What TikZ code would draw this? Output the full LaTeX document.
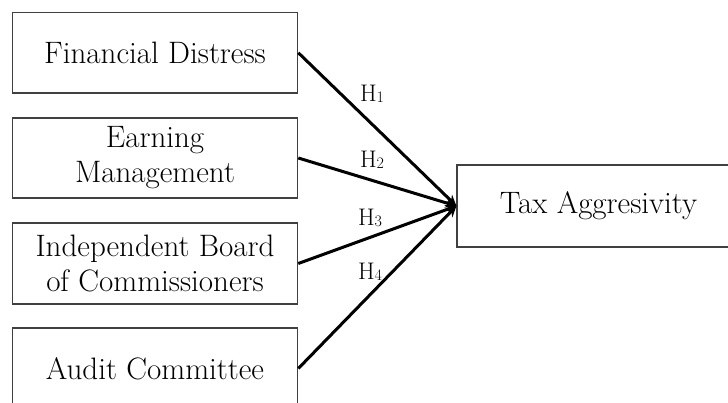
\documentclass[tikz,border=0pt]{standalone}
\usetikzlibrary{arrows.meta}
\begin{document}
\begin{tikzpicture}[x=1pt,y=1pt,
  box/.style={draw=black!75,line width=1.1pt,minimum width=285.5pt,align=center,inner sep=0pt,
    font=\fontsize{31}{35}\selectfont},
  link/.style={line width=3pt,-{Stealth[length=11pt,width=10pt]}},
  hlab/.style={font=\fontsize{24}{24}\selectfont,inner sep=0pt}]
\useasboundingbox (0,0) rectangle (728,-403);
\node[box,minimum height=80.5pt] (b1) at (155,-52.75) {Financial Distress};
\node[box,minimum height=80pt] (b2) at (155,-158) {Earning\\Management};
\node[box,minimum height=81pt] (b3) at (155,-263.5) {Independent Board\\of Commissioners};
\node[box,minimum height=81pt] (b4) at (155,-368.5) {Audit Committee};
\node[box,minimum width=283pt,minimum height=82pt] (t) at (598.5,-206) {Tax Aggresivity};
\draw[link] (b1.east) -- (t.west);
\draw[link] (b2.east) -- (t.west);
\draw[link] (b3.east) -- (t.west);
\draw[link] (b4.east) -- (t.west);
\newcommand{\hsub}[1]{H\raisebox{-1.5pt}{\fontsize{16}{16}\selectfont #1}}
\node[hlab] (h1) at (372,-94) {\hsub{1}};
\node[hlab] (h2) at (372,-160) {\hsub{2}};
\node[hlab] (h3) at (370,-218) {\hsub{3}};
\node[hlab] (h4) at (370,-272) {\hsub{4}};
\end{tikzpicture}
\end{document}
